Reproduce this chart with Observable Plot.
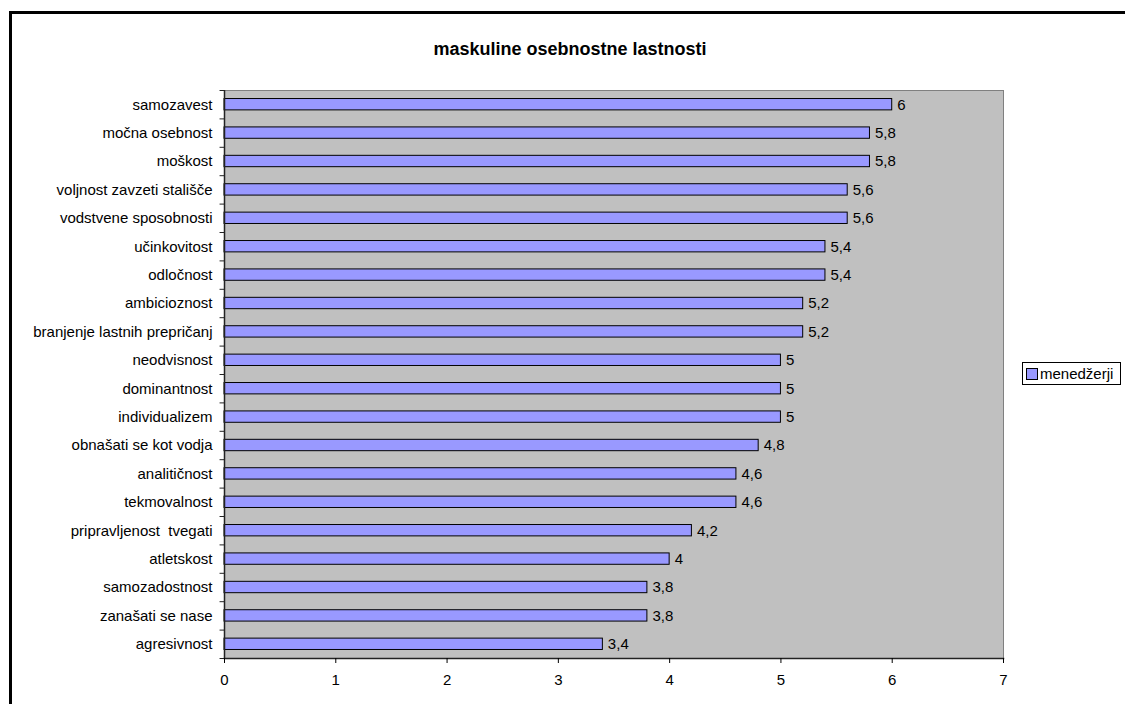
<!DOCTYPE html>
<html>
<head>
<meta charset="utf-8">
<script src="https://cdn.jsdelivr.net/npm/d3@7"></script>
<script src="https://cdn.jsdelivr.net/npm/@observablehq/plot@0.6"></script>
<style>
  html, body { margin: 0; padding: 0; background: #fff; overflow: hidden; }
  body { width: 1125px; height: 704px; position: relative; font-family: "Liberation Sans", Arial, sans-serif; }
  #frame { position: absolute; left: 9px; top: 11px; width: 1200px; height: 800px; border: 3px solid #000; box-sizing: border-box; }
  #title { position: absolute; left: 570px; top: 40px; transform: translateX(-50%); font-size: 18px; line-height: 18px; font-weight: bold; color: #000; white-space: nowrap; }
  #legend { position: absolute; left: 1022px; top: 362px; width: 99px; height: 23px; border: 1px solid #000; background: #fff; box-sizing: border-box; display: flex; align-items: center; padding-left: 3px; font-size: 15px; color: #000; }
  #legend .sw { width: 10px; height: 10px; background: #9999ff; border: 1px solid #000; margin-right: 2px; }
  #chart { position: absolute; left: 0; top: 0; }
  #chart svg text { white-space: pre; }
</style>
</head>
<body>
<div id="chart"></div>
<div id="frame"></div>
<div id="title"></div>
<div id="legend"><span class="sw"></span><span id="legend-label"></span></div>
<script>
const chartTitle = "maskuline osebnostne lastnosti";
const seriesName = "menedžerji";

// Traits, listed top to bottom
const traits = [
  "samozavest",
  "močna osebnost",
  "moškost",
  "voljnost zavzeti stališče",
  "vodstvene sposobnosti",
  "učinkovitost",
  "odločnost",
  "ambicioznost",
  "branjenje lastnih prepričanj",
  "neodvisnost",
  "dominantnost",
  "individualizem",
  "obnašati se kot vodja",
  "analitičnost",
  "tekmovalnost",
  "pripravljenost  tvegati",
  "atletskost",
  "samozadostnost",
  "zanašati se nase",
  "agresivnost"
];

// Average score for managers
const scores = [6, 5.8, 5.8, 5.6, 5.6, 5.4, 5.4, 5.2, 5.2, 5, 5, 5, 4.8, 4.6, 4.6, 4.2, 4, 3.8, 3.8, 3.4];

const xTicks = [0, 1, 2, 3, 4, 5, 6, 7];

const data = traits.map((t, i) => ({trait: t, value: scores[i]}));
const fmt = v => String(v).replace(".", ",");

document.getElementById("title").textContent = chartTitle;
document.getElementById("legend-label").textContent = seriesName;

const W = 1125, H = 704;
const mTop = 90, mBottom = 46;
const step = (H - mTop - mBottom) / traits.length;

const chart = Plot.plot({
  width: W,
  height: H,
  marginLeft: 224,
  marginRight: 122,
  marginTop: mTop,
  marginBottom: mBottom,
  style: {fontFamily: "'Liberation Sans', Arial, sans-serif", fontSize: "15px", color: "#000", background: "transparent"},
  x: {domain: [0, 7], ticks: xTicks},
  y: {domain: traits, paddingInner: 0.6, paddingOuter: 0.3, round: false},
  marks: [
    Plot.frame({fill: "#c0c0c0", stroke: "#808080"}),
    Plot.barX(data, {x: "value", y: "trait", fill: "#9999ff", stroke: "#000", strokeWidth: 1}),
    Plot.text(data, {x: "value", y: "trait", text: d => fmt(d.value), textAnchor: "start", dx: 5, fill: "#000", fontSize: 15}),
    Plot.ruleX([0], {stroke: "#222", strokeWidth: 1.5}),
    Plot.frame({anchor: "bottom", stroke: "#222", strokeWidth: 1.5}),
    // category separators on the value axis side
    Plot.ruleY(traits, {y: d => d, x1: -0.04, x2: 0, dy: -step / 2, stroke: "#222", clip: false}),
    Plot.ruleY([traits[traits.length - 1]], {y: d => d, x1: -0.04, x2: 0, dy: step / 2, stroke: "#222", clip: false}),
    Plot.axisY({tickSize: 0, tickPadding: 12, label: null, fontSize: 15}),
    Plot.axisX({ticks: xTicks, tickSize: 5, tickPadding: 11, label: null, fontSize: 15, tickFormat: d => String(d)})
  ]
});
document.getElementById("chart").appendChild(chart);
</script>
</body>
</html>
